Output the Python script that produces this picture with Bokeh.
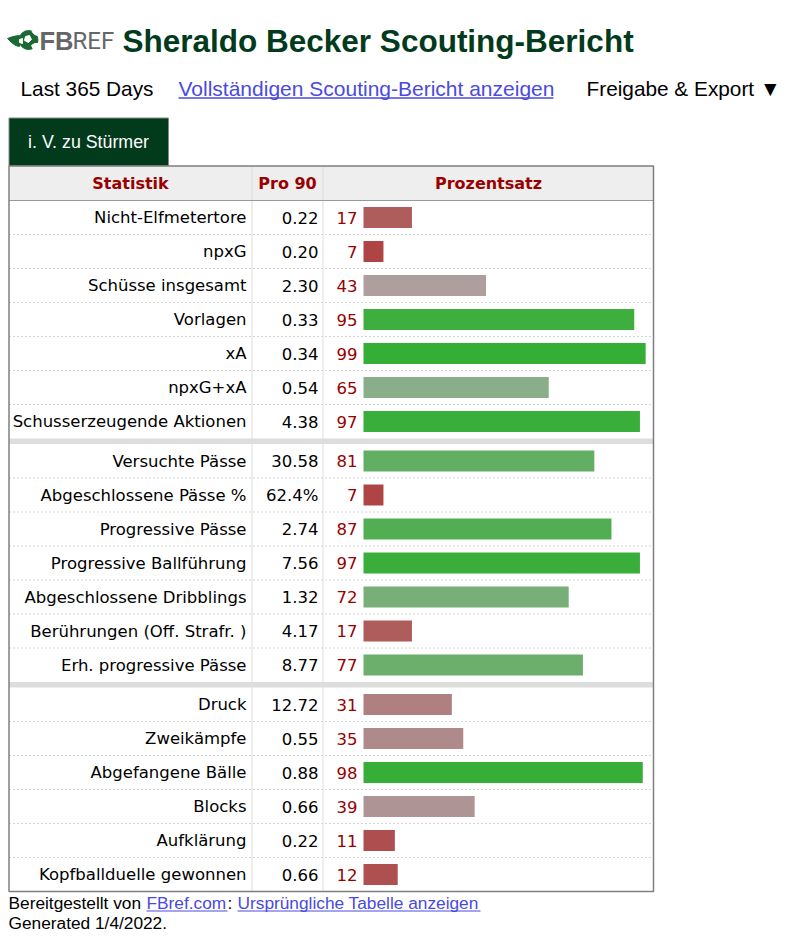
from bokeh.plotting import figure
from bokeh.models import Range1d
from bokeh.core.properties import value
from bokeh.embed import file_html
from bokeh.resources import INLINE

# ---------------- data ----------------
player_title = "Sheraldo Becker Scouting-Bericht"
tab_label = "i. V. zu Stürmer"
headers = ["Statistik", "Pro 90", "Prozentsatz"]

group1_stats = ["Nicht-Elfmetertore", "npxG", "Schüsse insgesamt", "Vorlagen", "xA",
                "npxG+xA", "Schusserzeugende Aktionen"]
group1_per90 = ["0.22", "0.20", "2.30", "0.33", "0.34", "0.54", "4.38"]
group1_pct = [17, 7, 43, 95, 99, 65, 97]

group2_stats = ["Versuchte Pässe", "Abgeschlossene Pässe %", "Progressive Pässe",
                "Progressive Ballführung", "Abgeschlossene Dribblings",
                "Berührungen (Off. Strafr. )", "Erh. progressive Pässe"]
group2_per90 = ["30.58", "62.4%", "2.74", "7.56", "1.32", "4.17", "8.77"]
group2_pct = [81, 7, 87, 97, 72, 17, 77]

group3_stats = ["Druck", "Zweikämpfe", "Abgefangene Bälle", "Blocks", "Aufklärung",
                "Kopfballduelle gewonnen"]
group3_per90 = ["12.72", "0.55", "0.88", "0.66", "0.22", "0.66"]
group3_pct = [31, 35, 98, 39, 11, 12]

groups = [(group1_stats, group1_per90, group1_pct),
          (group2_stats, group2_per90, group2_pct),
          (group3_stats, group3_per90, group3_pct)]

# ---------------- layout constants ----------------
W, H = 783, 936
TBL_L, TBL_R = 8.5, 653.0
TBL_TOP = 165.5
HDR_BOT = 200.0
ROW_H = 34.0
SEP_H = 5.5
COL1, COL2 = 251.5, 322.5
BAR_X0 = 363.0
BAR_SCALE = 2.85
BAR_H = 21
VERDANA = value("DejaVu Sans")
ARIAL = value("Liberation Sans")
DARKRED = "#990000"
LINK = "#4a4ae0"
GREEN_DARK = "#023a1c"
LOGO_GREEN = "#1b6a36"


def pct_color(p):
    if p < 50:
        v = int(round(50 + 2.5 * p))
        return "#%02x%02x%02x" % (174, v, v)
    v = int(round(300 - 2.5 * p))
    return "#%02x%02x%02x" % (v, 174, v)


p = figure(width=W, height=H, x_range=Range1d(0, W), y_range=Range1d(H, 0),
           output_backend="svg", toolbar_location=None, min_border=0,
           x_axis_type=None, y_axis_type=None)
p.outline_line_color = None
p.grid.visible = False
p.background_fill_color = "white"
p.border_fill_color = "white"

# ---------------- header area ----------------
# logo icon
p.patch(x=[7, 11, 15, 19, 19, 15, 11], y=[38, 36.5, 35.5, 35, 46, 45, 42], color=LOGO_GREEN)
p.ellipse(x=[28], y=[39.5], width=19, height=19, color=LOGO_GREEN)
p.patch(x=[25, 29, 31, 28, 24], y=[36, 35, 39, 42, 40], color="white")
p.patch(x=[31.5, 35, 37.5, 37.5, 34], y=[31, 30, 31, 35, 34], color="white")
p.patch(x=[31, 34, 37.5, 37.5, 33], y=[45, 43, 43, 49, 49], color="white")
p.patch(x=[19, 22, 22, 19], y=[39, 38, 43, 42], color="white")
p.text(x=[39], y=[40], text=["FB"], text_font=ARIAL, text_font_style="bold",
       text_font_size="25.5px", text_color="#666666", text_baseline="middle")
p.text(x=[72], y=[40], text=["REF"], text_font=value("Roboto"),
       text_font_size="24px", text_color="#666666", text_baseline="middle")
p.text(x=[122], y=[40], text=[player_title], text_font=ARIAL, text_font_style="bold",
       text_font_size="31.5px", text_color=GREEN_DARK, text_baseline="middle")

p.text(x=[20], y=[88], text=["Last 365 Days"], text_font=ARIAL, text_font_size="20.8px",
       text_color="black", text_baseline="middle")
p.text(x=[178], y=[88], text=["Vollständigen Scouting-Bericht anzeigen"], text_font=ARIAL,
       text_font_size="21px", text_color=LINK, text_baseline="middle")
p.segment(x0=[178], x1=[553], y0=[97.5], y1=[97.5], line_color=LINK, line_width=1.3)
p.text(x=[586], y=[88], text=["Freigabe & Export ▼"], text_font=ARIAL, text_font_size="20.8px",
       text_color="black", text_baseline="middle")

# tab
p.quad(left=[8.5], right=[168], top=[117.5], bottom=[165.5], fill_color=GREEN_DARK,
       line_color="#888888", line_width=1)
p.text(x=[88], y=[141], text=[tab_label], text_font=ARIAL, text_font_size="17.8px",
       text_color="white", text_align="center", text_baseline="middle")

# ---------------- table ----------------
names, vals, pcts, ys, row_bots, sep_tops = [], [], [], [], [], []
y = HDR_BOT
for gi, (s, v, pc) in enumerate(groups):
    if gi > 0:
        sep_tops.append(y)
        y += SEP_H
    for k in range(len(s)):
        names.append(s[k]); vals.append(v[k]); pcts.append(pc[k])
        ys.append(y + ROW_H / 2)
        y += ROW_H
        row_bots.append((y, k == len(s) - 1))
TBL_BOT = y

p.quad(left=[TBL_L], right=[TBL_R], top=[TBL_TOP], bottom=[HDR_BOT], fill_color="#eeeeee",
       line_color=None)
p.quad(left=[TBL_L] * len(sep_tops), right=[TBL_R] * len(sep_tops), top=sep_tops,
       bottom=[t + SEP_H for t in sep_tops], fill_color="#dddddd", line_color=None)

dot_y = [b for b, last in row_bots if not last]
p.segment(x0=[TBL_L] * len(dot_y), x1=[TBL_R] * len(dot_y), y0=dot_y, y1=dot_y,
          line_color="#d4d4d4", line_width=1, line_dash="2 2")
p.segment(x0=[COL1, COL2], x1=[COL1, COL2], y0=[TBL_TOP] * 2, y1=[TBL_BOT] * 2,
          line_color="#dddddd", line_width=1)
p.segment(x0=[TBL_L], x1=[TBL_R], y0=[HDR_BOT], y1=[HDR_BOT], line_color="#999999",
          line_width=1)
p.quad(left=[TBL_L], right=[TBL_R], top=[TBL_TOP], bottom=[TBL_BOT], fill_color=None,
       line_color="#7f7f7f", line_width=1.5)

# header labels
p.text(x=[130, 287, 488], y=[183] * 3, text=headers, text_font=VERDANA, text_font_style="bold",
       text_font_size="16px", text_color=DARKRED, text_align="center", text_baseline="middle")

# bars
p.hbar(y=ys, left=BAR_X0, right=[BAR_X0 + BAR_SCALE * v for v in pcts], height=BAR_H,
       fill_color=[pct_color(v) for v in pcts], line_color=None)

# texts
p.text(x=246, y=ys, text=names, text_font=VERDANA, text_font_size="16.5px", text_color="black",
       text_align="right", text_baseline="middle")
p.text(x=318, y=ys, text=vals, text_font=VERDANA, text_font_size="16.5px", text_color="black",
       text_align="right", text_baseline="middle")
p.text(x=357, y=ys, text=[str(v) for v in pcts], text_font=VERDANA, text_font_size="16.5px",
       text_color=DARKRED, text_align="right", text_baseline="middle")

# ---------------- footer ----------------
FY1, FY2 = 902, 922
p.text(x=[8], y=[FY1], text=["Bereitgestellt von"], text_font=ARIAL, text_font_size="17.3px",
       text_color="black", text_baseline="middle")
p.text(x=[146], y=[FY1], text=["FBref.com"], text_font=ARIAL, text_font_size="17.3px",
       text_color=LINK, text_baseline="middle")
p.text(x=[227], y=[FY1], text=[":"], text_font=ARIAL, text_font_size="17.3px",
       text_color="black", text_baseline="middle")
p.text(x=[237], y=[FY1], text=["Ursprüngliche Tabelle anzeigen"], text_font=ARIAL,
       text_font_size="17.3px", text_color=LINK, text_baseline="middle")
p.segment(x0=[146, 237], x1=[227, 480], y0=[910.5] * 2, y1=[910.5] * 2, line_color=LINK,
          line_width=1.2)
p.text(x=[8], y=[FY2], text=["Generated 1/4/2022."], text_font=ARIAL, text_font_size="17.3px",
       text_color="black", text_baseline="middle")

open("out.html", "w").write(file_html(p, INLINE))
